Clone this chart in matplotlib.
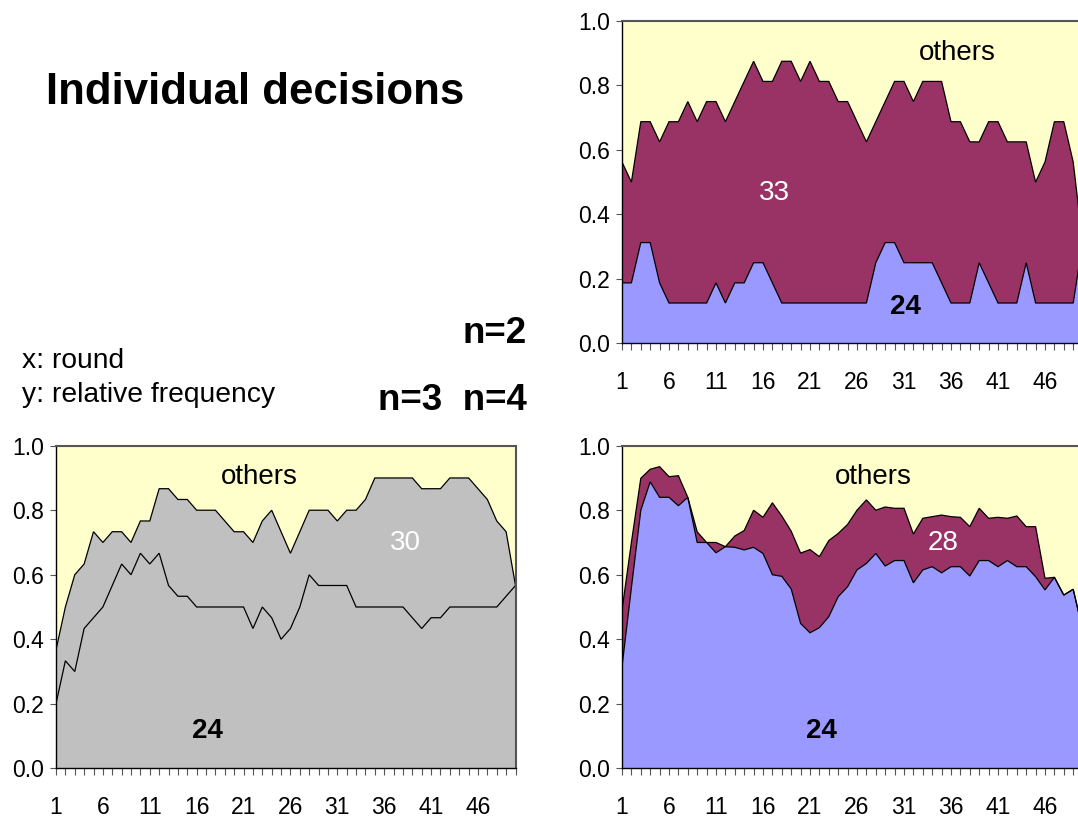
import numpy as np
import matplotlib
matplotlib.use("Agg")
import matplotlib.pyplot as plt

plt.rcParams['font.family'] = ['Liberation Sans', 'DejaVu Sans']

# ---------------- data ----------------
rounds = list(range(1, 51))
round_labels = [str(r) if (r - 1) % 5 == 0 else "" for r in rounds]
y_ticks = [0.0, 0.2, 0.4, 0.6, 0.8, 1.0]
y_tick_labels = ["0.0", "0.2", "0.4", "0.6", "0.8", "1.0"]

# n=2 : share choosing 24 and 33 (rest = others)
n2_s24 = [0.1875, 0.1875, 0.3125, 0.3125, 0.1875, 0.125, 0.125, 0.125, 0.125, 0.125,
          0.1875, 0.125, 0.1875, 0.1875, 0.25, 0.25, 0.1875, 0.125, 0.125, 0.125,
          0.125, 0.125, 0.125, 0.125, 0.125, 0.125, 0.125, 0.25, 0.3125, 0.3125,
          0.25, 0.25, 0.25, 0.25, 0.1875, 0.125, 0.125, 0.125, 0.25, 0.1875,
          0.125, 0.125, 0.125, 0.25, 0.125, 0.125, 0.125, 0.125, 0.125, 0.3125]
n2_s33 = [0.375, 0.3125, 0.375, 0.375, 0.4375, 0.5625, 0.5625, 0.625, 0.5625, 0.625,
          0.5625, 0.5625, 0.5625, 0.625, 0.625, 0.5625, 0.625, 0.75, 0.75, 0.6875,
          0.75, 0.6875, 0.6875, 0.625, 0.625, 0.5625, 0.5, 0.4375, 0.4375, 0.5,
          0.5625, 0.5, 0.5625, 0.5625, 0.625, 0.5625, 0.5625, 0.5, 0.375, 0.5,
          0.5625, 0.5, 0.5, 0.375, 0.375, 0.4375, 0.5625, 0.5625, 0.4375, 0.0]

# n=3 : share choosing 24 and 30
n3_s24 = [0.2, 0.3333, 0.3, 0.4333, 0.4667, 0.5, 0.5667, 0.6333, 0.6, 0.6667,
          0.6333, 0.6667, 0.5667, 0.5333, 0.5333, 0.5, 0.5, 0.5, 0.5, 0.5,
          0.5, 0.4333, 0.5, 0.4667, 0.4, 0.4333, 0.5, 0.6, 0.5667, 0.5667,
          0.5667, 0.5667, 0.5, 0.5, 0.5, 0.5, 0.5, 0.5, 0.4667, 0.4333,
          0.4667, 0.4667, 0.5, 0.5, 0.5, 0.5, 0.5, 0.5, 0.5333, 0.5667]
n3_s30 = [0.1667, 0.1667, 0.3, 0.2, 0.2667, 0.2, 0.1667, 0.1, 0.1, 0.1,
          0.1333, 0.2, 0.3, 0.3, 0.3, 0.3, 0.3, 0.3, 0.2667, 0.2333,
          0.2333, 0.2667, 0.2667, 0.3333, 0.3333, 0.2333, 0.2333, 0.2, 0.2333, 0.2333,
          0.2, 0.2333, 0.3, 0.3333, 0.4, 0.4, 0.4, 0.4, 0.4333, 0.4333,
          0.4, 0.4, 0.4, 0.4, 0.4, 0.3667, 0.3333, 0.2667, 0.2, 0.0]

# n=4 : share choosing 24 and 28
n4_s24 = [0.315, 0.56, 0.80, 0.888, 0.84, 0.84, 0.814, 0.84, 0.70, 0.70,
          0.668, 0.687, 0.685, 0.677, 0.685, 0.666, 0.60, 0.595, 0.556, 0.449,
          0.42, 0.436, 0.47, 0.532, 0.563, 0.615, 0.635, 0.666, 0.627, 0.644,
          0.644, 0.575, 0.615, 0.625, 0.606, 0.625, 0.625, 0.596, 0.644, 0.644,
          0.625, 0.644, 0.625, 0.625, 0.594, 0.553, 0.592, 0.537, 0.555, 0.43]
n4_s28 = [0.175, 0.14, 0.099, 0.039, 0.095, 0.064, 0.093, 0.0, 0.033, 0.0,
          0.032, 0.0, 0.035, 0.06, 0.115, 0.112, 0.223, 0.187, 0.179, 0.218,
          0.258, 0.22, 0.236, 0.196, 0.193, 0.185, 0.197, 0.134, 0.183, 0.162,
          0.162, 0.151, 0.16, 0.155, 0.179, 0.155, 0.153, 0.153, 0.162, 0.131,
          0.153, 0.131, 0.157, 0.124, 0.155, 0.036, 0.0, 0.0, 0.0, 0.0]

C_OTHERS = '#FFFFCC'
C_PURPLE = '#993366'
C_BLUE = '#9999FF'
C_GRAY = '#C0C0C0'

W, H = 1078, 819
fig = plt.figure(figsize=(W / 100, H / 100), dpi=100)


def px_axes(left, top, right, bottom):
    return fig.add_axes([left / W, 1 - bottom / H, (right - left) / W, (bottom - top) / H])


def draw(ax, layers, colors):
    x = np.array(rounds)
    base = np.zeros(len(x))
    tops = []
    for share, col in zip(layers, colors):
        top = base + np.array(share)
        ax.fill_between(x, base, top, facecolor=col, edgecolor='none', lw=0)
        tops.append(top)
        base = top
    for top in tops:
        ax.plot(x, top, color='black', lw=0.9, solid_joinstyle='miter')
    ax.set_facecolor(C_OTHERS)
    ax.set_xlim(1, 50)
    ax.set_ylim(0, 1)
    ax.set_xticks(rounds)
    ax.set_xticklabels(round_labels)
    ax.set_yticks(y_ticks)
    ax.set_yticklabels(y_tick_labels)
    ax.tick_params(axis='x', direction='out', length=5, width=0.8, color='#555555',
                   pad=15, labelsize=16.5)
    ax.tick_params(axis='y', direction='out', length=4.5, width=0.8, color='#555555',
                   pad=4, labelsize=16.5)
    for s in ['left', 'bottom']:
        ax.spines[s].set_color('black')
        ax.spines[s].set_linewidth(1.0)
    for s in ['top', 'right']:
        ax.spines[s].set_color('#555555')
        ax.spines[s].set_linewidth(1.5)


# n=2 (top right)
ax2 = px_axes(622, 21, 1082.6, 343.3)
draw(ax2, [n2_s24, n2_s33], [C_BLUE, C_PURPLE])
ax2.text(36.7, 0.879, "others", ha='center', va='baseline', fontsize=20, color='black')
ax2.text(17.2, 0.445, "33", ha='center', va='baseline', fontsize=20, color='white')
ax2.text(31.2, 0.09, "24", ha='center', va='baseline', fontsize=20, fontweight='bold', color='black')

# n=3 (bottom left)
ax3 = px_axes(56, 445.7, 515.5, 768.3)
draw(ax3, [n3_s24, n3_s30], [C_GRAY, C_GRAY])
ax3.text(22.7, 0.881, "others", ha='center', va='baseline', fontsize=20, color='black')
ax3.text(38.3, 0.677, "30", ha='center', va='baseline', fontsize=20, color='white')
ax3.text(17.2, 0.093, "24", ha='center', va='baseline', fontsize=20, fontweight='bold', color='black')

# n=4 (bottom right)
ax4 = px_axes(622, 445.7, 1082.6, 768.3)
draw(ax4, [n4_s24, n4_s28], [C_BLUE, C_PURPLE])
ax4.text(27.7, 0.881, "others", ha='center', va='baseline', fontsize=20, color='black')
ax4.text(35.2, 0.677, "28", ha='center', va='baseline', fontsize=20, color='white')
ax4.text(22.2, 0.093, "24", ha='center', va='baseline', fontsize=20, fontweight='bold', color='black')

# free texts
fig.text(46.5 / W, 1 - 103.5 / H, "Individual decisions", fontsize=31.5, fontweight='bold',
         ha='left', va='baseline')
fig.text(527 / W, 1 - 343 / H, "n=2", fontsize=26.5, fontweight='bold', ha='right', va='baseline')
fig.text(527 / W, 1 - 410 / H, "n=3  n=4", fontsize=26.5, fontweight='bold', ha='right', va='baseline')
fig.text(22 / W, 1 - 368 / H, "x: round", fontsize=20.3, ha='left', va='baseline')
fig.text(22 / W, 1 - 402 / H, "y: relative frequency", fontsize=20.3, ha='left', va='baseline')

fig.savefig("out.png", dpi=100)
